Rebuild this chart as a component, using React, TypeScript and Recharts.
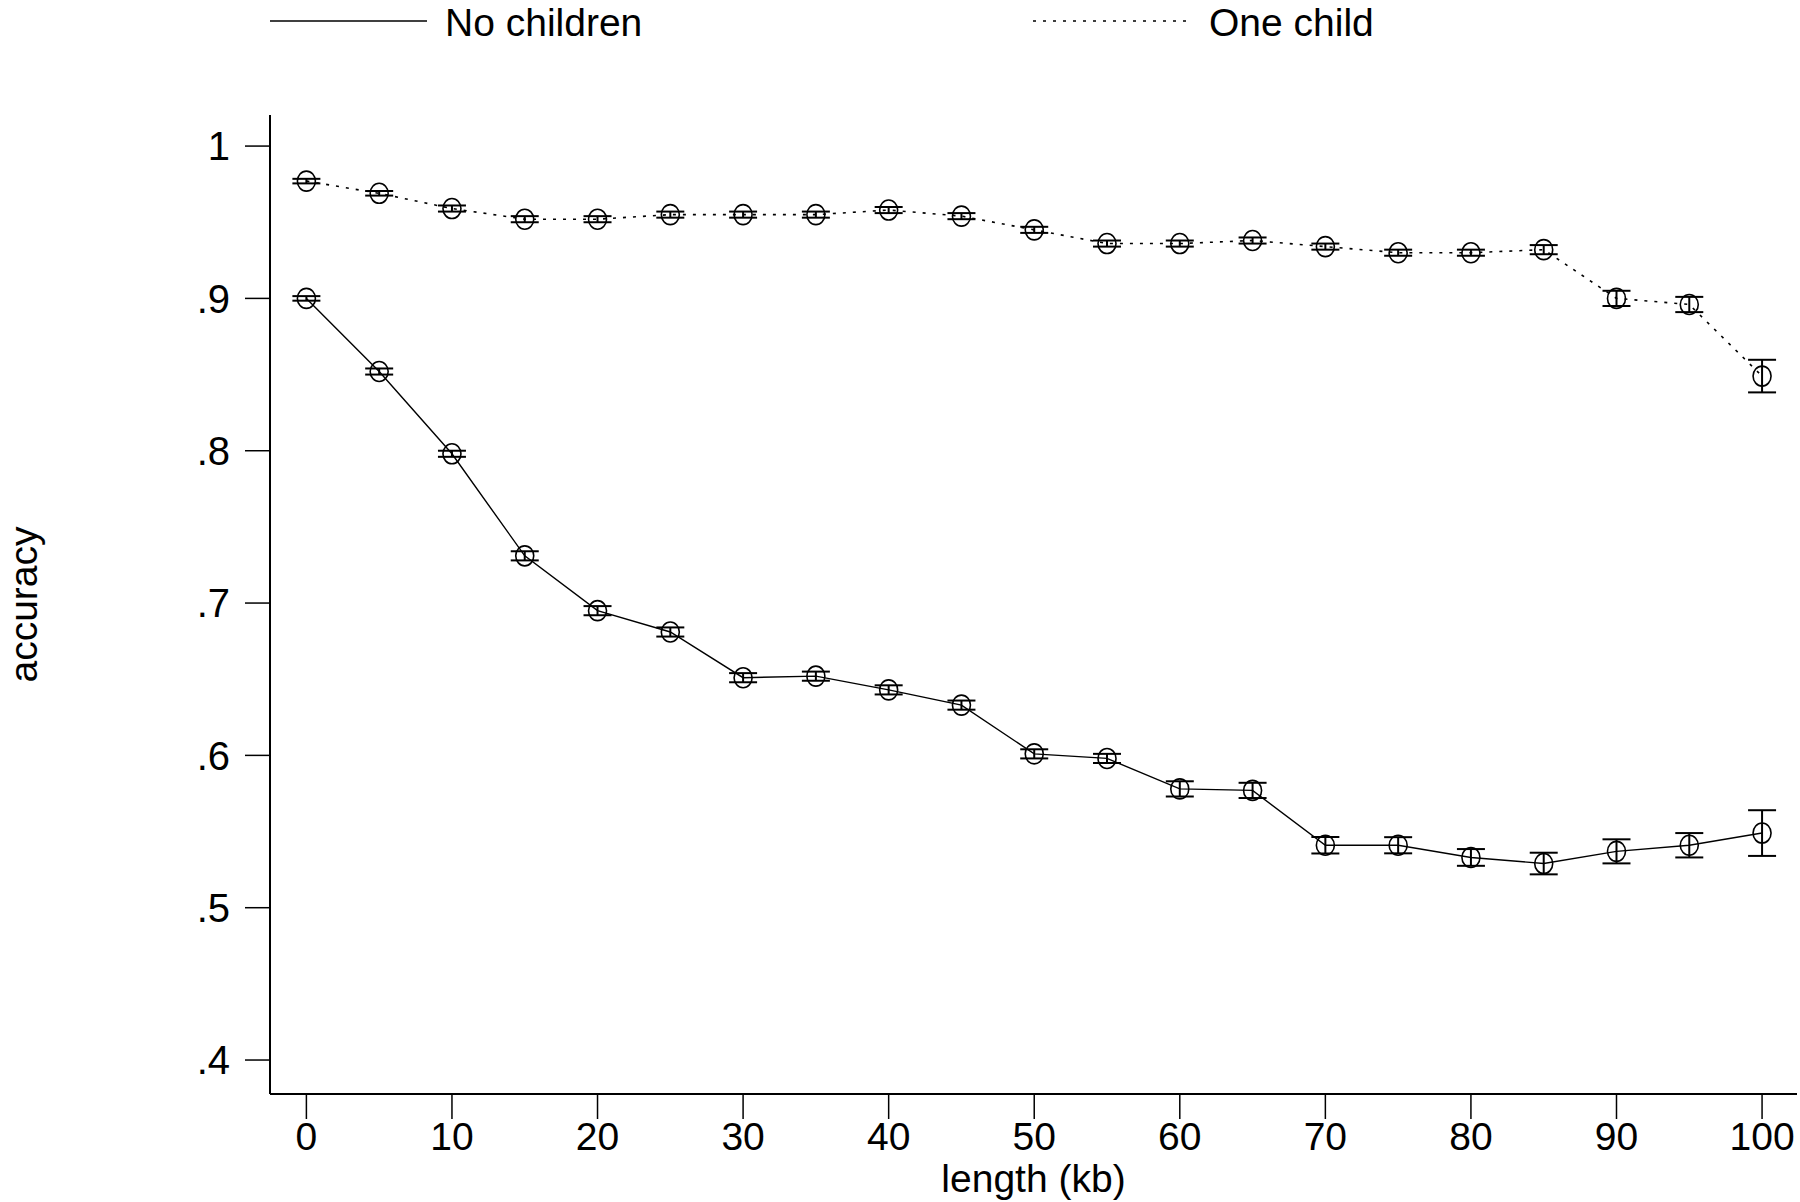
import React from 'react';
import { LineChart, Line, XAxis, YAxis, ErrorBar } from 'recharts';

const lengths = [0, 5, 10, 15, 20, 25, 30, 35, 40, 45, 50, 55, 60, 65, 70, 75, 80, 85, 90, 95, 100];
const noChildren = [0.9, 0.852, 0.798, 0.731, 0.695, 0.681, 0.651, 0.652, 0.643, 0.633, 0.601, 0.598, 0.578, 0.577, 0.541, 0.541, 0.533, 0.529, 0.537, 0.541, 0.549];
const noChildrenErr = [0.0015, 0.002, 0.002, 0.003, 0.003, 0.003, 0.003, 0.003, 0.003, 0.003, 0.003, 0.003, 0.005, 0.005, 0.0054, 0.0053, 0.0055, 0.0071, 0.0079, 0.008, 0.015];
const oneChild = [0.977, 0.969, 0.959, 0.952, 0.952, 0.955, 0.955, 0.955, 0.958, 0.954, 0.945, 0.936, 0.936, 0.938, 0.934, 0.93, 0.93, 0.932, 0.9, 0.896, 0.849];
const oneChildErr = [0.0015, 0.0015, 0.002, 0.002, 0.002, 0.002, 0.002, 0.002, 0.002, 0.002, 0.002, 0.002, 0.002, 0.002, 0.002, 0.002, 0.002, 0.003, 0.005, 0.005, 0.0107];
const seriesNames = ['No children', 'One child'];
const xTicks = [0, 10, 20, 30, 40, 50, 60, 70, 80, 90, 100];
const yTicks = [0.4, 0.5, 0.6, 0.7, 0.8, 0.9, 1];
const xLabel = 'length (kb)';
const yLabel = 'accuracy';

const data = lengths.map((x, i) => ({
  x,
  nc: noChildren[i],
  ncErr: noChildrenErr[i],
  oc: oneChild[i],
  ocErr: oneChildErr[i],
}));

const FONT = '"Liberation Sans", Arial, sans-serif';

const fmtY = (v: number) => (v === 1 ? '1' : v.toFixed(1).replace(/^0/, ''));

const Dot = (props: any) => {
  const { cx, cy, index } = props;
  if (cx == null || cy == null) return null;
  return <ellipse key={index} cx={cx} cy={cy} rx={9} ry={10} fill="none" stroke="#000" strokeWidth={1.6} />;
};

export default function App() {
  return (
    <div style={{ position: 'absolute', left: 0, top: 0, width: 1800, height: 1202, background: '#fff' }}>
      <svg width={1800} height={60} style={{ position: 'absolute', left: 0, top: 0 }}>
        <line x1={270} y1={21} x2={427} y2={21} stroke="#000" strokeWidth={1.6} />
        <text x={445} y={36} fontFamily={FONT} fontSize={39} fill="#000">{seriesNames[0]}</text>
        <line x1={1033} y1={21} x2={1188} y2={21} stroke="#000" strokeWidth={1.6} strokeDasharray="3 7" />
        <text x={1209} y={36} fontFamily={FONT} fontSize={39} fill="#000">{seriesNames[1]}</text>
      </svg>
      <LineChart
        width={1800}
        height={1202}
        data={data}
        margin={{ top: 115, right: 3, bottom: 0, left: 0 }}
        style={{ position: 'absolute', left: 0, top: 0 }}
      >
        <XAxis
          type="number"
          dataKey="x"
          domain={[-2.5, 102.4]}
          ticks={xTicks}
          allowDataOverflow
          height={108}
          tickSize={25}
          tickMargin={3}
          axisLine={{ stroke: '#000', strokeWidth: 2 }}
          tickLine={{ stroke: '#000', strokeWidth: 1.5 }}
          tick={{ fill: '#000', fontSize: 39, fontFamily: FONT }}
          label={{ value: xLabel, position: 'insideBottom', offset: 10, fill: '#000', fontSize: 39, fontFamily: FONT }}
        />
        <YAxis
          type="number"
          domain={[0.3777, 1.0204]}
          ticks={yTicks}
          allowDataOverflow
          width={270}
          tickSize={25}
          tickMargin={15}
          tickFormatter={fmtY}
          axisLine={{ stroke: '#000', strokeWidth: 2 }}
          tickLine={{ stroke: '#000', strokeWidth: 1.5 }}
          tick={{ fill: '#000', fontSize: 40, fontFamily: FONT }}
          label={{ value: yLabel, angle: -90, position: 'insideLeft', offset: 23, fill: '#000', fontSize: 39, fontFamily: FONT, style: { textAnchor: 'middle' } }}
        />
        <Line
          dataKey="nc"
          name={seriesNames[0]}
          stroke="#000"
          strokeWidth={1.4}
          dot={<Dot />}
          isAnimationActive={false}
        >
          <ErrorBar dataKey="ncErr" direction="y" width={14} stroke="#000" strokeWidth={2} isAnimationActive={false} />
        </Line>
        <Line
          dataKey="oc"
          name={seriesNames[1]}
          stroke="#000"
          strokeWidth={1.6}
          strokeDasharray="3 7"
          dot={<Dot />}
          isAnimationActive={false}
        >
          <ErrorBar dataKey="ocErr" direction="y" width={14} stroke="#000" strokeWidth={2} isAnimationActive={false} />
        </Line>
      </LineChart>
    </div>
  );
}
